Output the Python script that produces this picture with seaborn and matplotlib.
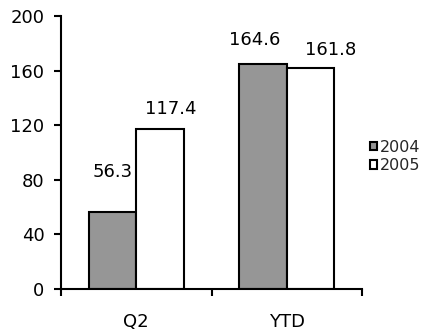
import matplotlib
matplotlib.use("Agg")
import matplotlib.pyplot as plt
from matplotlib.patches import Patch
import seaborn as sns
import pandas as pd

# Data
periods = ["Q2", "YTD"]
years = ["2004", "2005"]
values_2004 = [56.3, 164.6]
values_2005 = [117.4, 161.8]
y_ticks = [0, 40, 80, 120, 160, 200]

df = pd.DataFrame({
    "period": periods * 2,
    "year": [years[0]] * 2 + [years[1]] * 2,
    "value": values_2004 + values_2005,
})

sns.set_theme(style="white")
plt.rcParams["font.family"] = ["DejaVu Sans"]

fig = plt.figure(figsize=(4.23, 3.31), dpi=100)
ax = fig.add_axes([61 / 423, 1 - 289 / 331, 301 / 423, 273 / 331])

palette = {"2004": "#969696", "2005": "#ffffff"}
sns.barplot(data=df, x="period", y="value", hue="year", order=periods,
            hue_order=years, palette=palette, width=0.63, saturation=1,
            edgecolor="black", linewidth=1.5, legend=False, ax=ax)

ax.set_xlim(-0.5, 1.5)
ax.set_ylim(0, 200)
ax.set_yticks(y_ticks)
ax.set_xlabel("")
ax.set_ylabel("")

for side in ("top", "right"):
    ax.spines[side].set_visible(False)
for side in ("left", "bottom"):
    ax.spines[side].set_color("black")
    ax.spines[side].set_linewidth(1.5)

ax.tick_params(axis="y", which="major", direction="out", length=5, width=1.5,
               color="black", labelsize=13, labelcolor="black", pad=7, left=True)
ax.tick_params(axis="x", which="major", length=0, labelsize=13,
               labelcolor="black", pad=17)
ax.set_xticks([-0.5, 0.5, 1.5], minor=True)
ax.tick_params(axis="x", which="minor", direction="out", length=5, width=1.5,
               color="black", bottom=True)

# Value labels above each bar (pixel offsets from bar top centre)
offsets = {("2004", 0): (0, 40), ("2005", 0): (11, 20),
           ("2004", 1): (-8, 24), ("2005", 1): (20, 18)}
for container, yr in zip(ax.containers, years):
    for i, bar in enumerate(container):
        val = bar.get_height()
        dx, dy = offsets[(yr, i)]
        ax.annotate(f"{val:.1f}", (bar.get_x() + bar.get_width() / 2, val),
                    xytext=(dx, dy), textcoords="offset pixels",
                    ha="center", va="center", fontsize=13, color="black")

handles = [Patch(facecolor=palette[y], edgecolor="black", linewidth=1.5, label=y)
           for y in years]
fig.legend(handles=handles, loc="center left",
           bbox_to_anchor=(370 / 423, 1 - 156.5 / 331),
           frameon=False, fontsize=11.5, handlelength=0.42, handleheight=0.42,
           handletextpad=0.2, labelspacing=0.2, borderpad=0, borderaxespad=0)

fig.savefig("out.png", dpi=100)
